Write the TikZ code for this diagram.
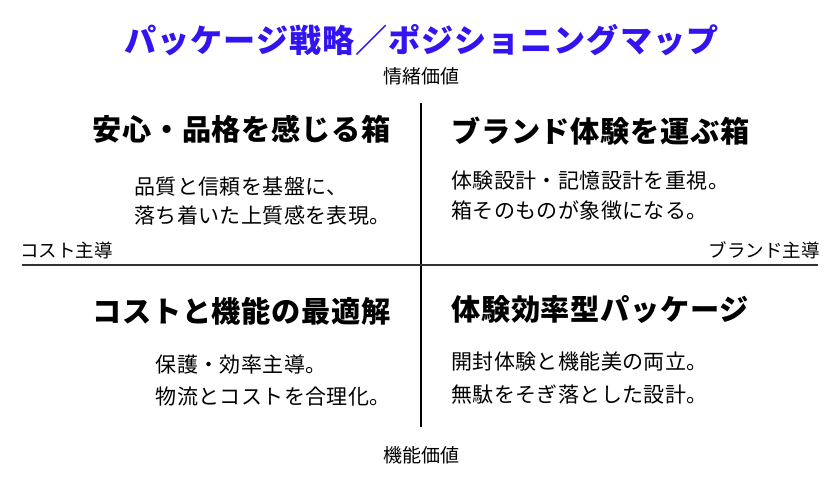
\documentclass[tikz,border=0pt]{standalone}
\usepackage{fontspec}
\newfontfamily\jpbody{Noto Sans CJK JP}[LetterSpace=2]
\newfontfamily\jphead{Noto Sans CJK JP}[LetterSpace=2.5]
\newfontfamily\jptitle{Noto Sans CJK JP}[LetterSpace=3]
\newfontfamily\jpaxis{Noto Sans CJK JP}
\definecolor{titleblue}{RGB}{50,20,240}
\definecolor{axisgray}{RGB}{51,51,51}
\tikzset{
  titletext/.style={inner sep=0pt, text=titleblue, font={\jptitle\bfseries\fontsize{32.1}{36}\selectfont}},
  axislabel/.style={inner sep=0pt, font={\jpaxis\fontsize{#1}{22}\selectfont}},
  headtext/.style={inner sep=0pt, font={\jphead\bfseries\fontsize{29.2}{34}\selectfont}},
  bodytext/.style={inner sep=0pt, align=left, font={\jpbody\fontsize{21}{#1}\selectfont}},
  hline/.style={line width=2.5pt, draw=axisgray},
  vline/.style={line width=1.5pt, draw=black}
}
\begin{document}
\begin{tikzpicture}[x=1pt,y=-1pt]
\useasboundingbox[fill=white] (0,0) rectangle (840,485);
\node[titletext] (title) at (421.5,40) {パッケージ戦略／ポジショニングマップ};
\node[axislabel=19] (top) at (421,76) {情緒価値};
\node[axislabel=19] (bottom) at (421,455) {機能価値};
\node[axislabel=18.5, anchor=west] (left) at (20,250) {コスト主導};
\node[axislabel=18.5, anchor=east] (right) at (820,250) {ブランド主導};
\coordinate (vt) at (421,103);
\coordinate (vb) at (421,427);
\coordinate (hl) at (22,265);
\coordinate (hr) at (818,265);
\draw[vline] (vt) -- (vb);
\draw[hline] (hl) -- (hr);
\node[headtext, anchor=east] (h1) at (391,129) {安心・品格を感じる箱};
\node[headtext, anchor=west] (h2) at (451,131) {ブランド体験を運ぶ箱};
\node[headtext, anchor=east] (h3) at (391,311) {コストと機能の最適解};
\node[headtext, anchor=west] (h4) at (451,310) {体験効率型パッケージ};
\node[bodytext=29, anchor=east] (b1) at (391,201.5) {品質と信頼を基盤に、\\落ち着いた上質感を表現。};
\node[bodytext=30, anchor=west] (b2) at (451,196) {体験設計・記憶設計を重視。\\箱そのものが象徴になる。};
\node[bodytext=32, anchor=east] (b3) at (391,381) {保護・効率主導。\\物流とコストを合理化。};
\node[bodytext=33, anchor=west] (b4) at (451,378.5) {開封体験と機能美の両立。\\無駄をそぎ落とした設計。};
\end{tikzpicture}
\end{document}
